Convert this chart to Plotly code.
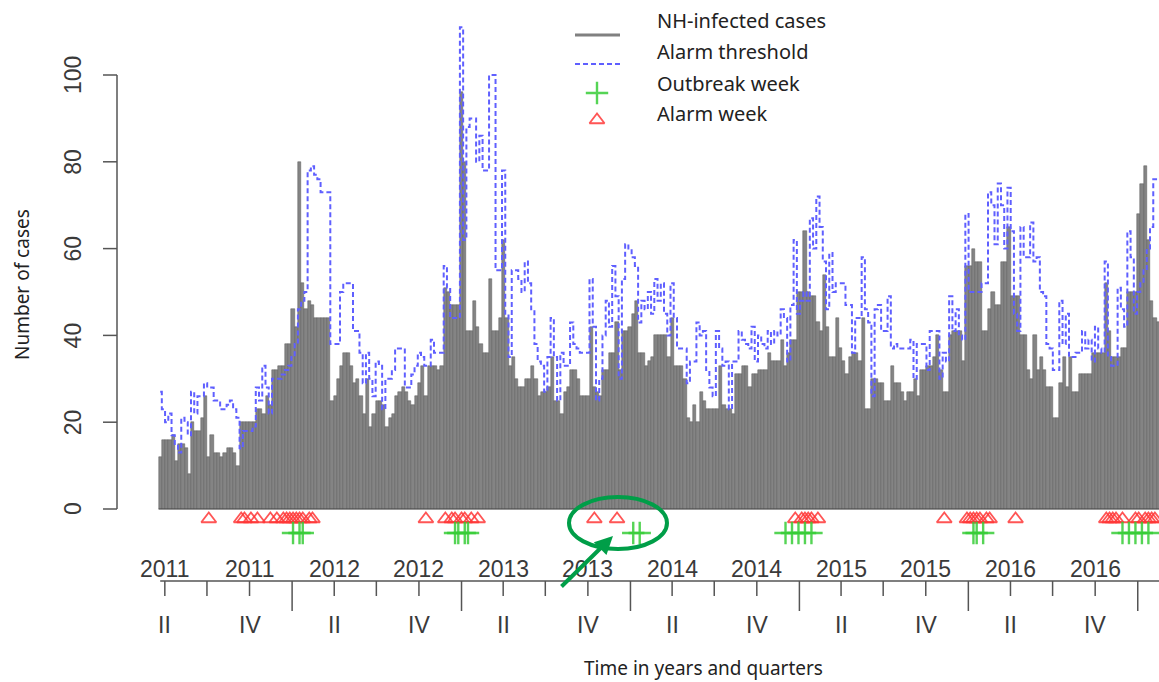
import pandas as pd
import plotly.graph_objects as go

# ---------------- data ----------------
start_week = "2011-03-22"
cases = [
    12, 16, 16, 16, 17, 11, 15, 15, 14, 8,
    20, 18, 18, 21, 26, 12, 17, 13, 13, 12,
    13, 14, 14, 13, 10, 20, 20, 20, 20, 20,
    23, 23, 22, 26, 24, 32, 32, 33, 33, 38,
    38, 46, 42, 80, 52, 46, 48, 47, 44, 44,
    44, 44, 44, 25, 26, 30, 33, 36, 36, 33,
    29, 30, 26, 22, 30, 19, 22, 25, 25, 24,
    19, 21, 22, 26, 27, 28, 27, 25, 24, 26,
    29, 33, 26, 33, 33, 33, 32, 33, 51, 50,
    47, 47, 47, 96, 80, 41, 41, 48, 42, 38,
    36, 36, 53, 41, 41, 44, 62, 44, 33, 35,
    30, 28, 28, 30, 30, 33, 30, 26, 27, 27,
    28, 35, 25, 25, 22, 27, 28, 32, 32, 30,
    26, 26, 26, 42, 28, 27, 26, 32, 32, 36,
    36, 43, 32, 41, 41, 42, 45, 48, 36, 36,
    33, 34, 35, 40, 40, 40, 40, 35, 44, 33,
    33, 33, 30, 21, 20, 24, 20, 27, 25, 23,
    23, 23, 23, 33, 24, 23, 23, 22, 31, 31,
    33, 33, 28, 31, 31, 32, 32, 32, 36, 34,
    34, 34, 39, 33, 36, 39, 39, 50, 50, 64,
    50, 49, 49, 43, 41, 54, 42, 35, 35, 44,
    37, 34, 31, 35, 36, 36, 34, 44, 23, 23,
    30, 30, 29, 29, 25, 25, 33, 29, 29, 27,
    25, 27, 27, 30, 26, 32, 32, 33, 33, 35,
    40, 32, 27, 27, 40, 41, 41, 41, 34, 56,
    56, 60, 57, 57, 41, 41, 46, 50, 47, 47,
    57, 57, 65, 49, 49, 49, 40, 40, 32, 30,
    40, 32, 35, 32, 28, 28, 21, 21, 29, 35,
    28, 35, 27, 27, 31, 31, 31, 31, 36, 36,
    36, 36, 52, 41, 35, 35, 35, 37, 37, 50,
    50, 50, 68, 75, 79, 62, 48, 44, 43,
]
threshold = [
    27, 23, 20, 22, 17, 15, 13, 21, 20, 17,
    27, 22, 26, 26, 29, 28, 28, 25, 25, 23,
    23, 24, 25, 23, 21, 14, 18, 18, 18, 19,
    28, 25, 33, 28, 22, 30, 30, 30, 31, 32,
    33, 35, 38, 46, 48, 50, 78, 79, 77, 76,
    73, 73, 73, 38, 38, 38, 50, 52, 52, 52,
    41, 41, 36, 29, 36, 30, 26, 34, 33, 23,
    30, 30, 32, 37, 37, 37, 28, 28, 31, 33,
    36, 35, 33, 33, 39, 36, 36, 36, 56, 51,
    44, 44, 44, 111, 62, 88, 90, 90, 80, 86,
    78, 78, 100, 100, 55, 55, 78, 45, 35, 55,
    55, 53, 50, 57, 52, 46, 38, 34, 33, 27,
    35, 44, 35, 25, 36, 33, 33, 43, 38, 37,
    36, 36, 36, 53, 42, 25, 30, 40, 48, 42,
    56, 49, 30, 53, 61, 60, 58, 56, 43, 48,
    46, 50, 45, 53, 48, 52, 45, 40, 52, 44,
    37, 37, 37, 29, 34, 34, 43, 40, 41, 32,
    28, 26, 41, 37, 33, 34, 23, 34, 34, 41,
    39, 38, 37, 42, 34, 40, 38, 37, 41, 38,
    41, 40, 46, 44, 34, 47, 62, 45, 48, 50,
    48, 67, 60, 72, 65, 57, 46, 59, 50, 52,
    52, 52, 47, 47, 36, 44, 44, 58, 46, 43,
    26, 46, 47, 41, 41, 49, 37, 38, 37, 37,
    37, 37, 39, 30, 38, 38, 38, 32, 41, 41,
    41, 30, 36, 34, 49, 41, 46, 40, 39, 68,
    50, 50, 50, 50, 52, 52, 73, 70, 61, 75,
    70, 60, 74, 64, 45, 41, 65, 58, 58, 66,
    57, 58, 50, 49, 38, 37, 32, 32, 48, 38,
    45, 35, 35, 36, 36, 41, 37, 39, 34, 42,
    37, 36, 57, 35, 33, 33, 51, 46, 42, 64,
    58, 45, 50, 52, 55, 60, 65, 76, 76,
]
alarm_weeks = [15, 25, 26, 28, 30, 34, 36, 38, 39, 40, 41, 42, 43, 44, 46, 47,
               82, 88, 90, 91, 93, 94, 96, 98, 134, 141,
               196, 198, 199, 200, 201, 203, 242, 249, 250, 251, 252, 253, 255, 256,
               264, 292, 293, 294, 295, 297, 301, 302, 304, 305, 306, 307]
outbreak_weeks = [41, 43, 44, 91, 92, 94, 95, 146, 148,
                  193, 195, 197, 199, 201, 251, 252, 254, 297, 299, 301, 303, 305]
years = [2011, 2012, 2013, 2014, 2015, 2016]
y_ticks = [0, 20, 40, 60, 80, 100]
legend_labels = ["NH-infected cases", "Alarm threshold", "Outbreak week", "Alarm week"]

# ---------------- derived ----------------
W, H = 1159, 682
dates = pd.date_range(start_week, periods=len(cases), freq="7D")
thr_dates = dates[:len(threshold)]
px_per_day = 3.24 / 7.0
x_start = dates[0] - pd.Timedelta(days=160.2 / px_per_day)
x_end = dates[0] + pd.Timedelta(days=(W - 160.2) / px_per_day)
y_top = (509 - 0) / 4.34
y_bot = (509 - H) / 4.34

def ypix(p):
    return (509 - p) / 4.34

thr_col = "rgb(95,95,255)"
thr_dash = "5px,3px"
red = "rgba(255,55,55,0.85)"
lime = "rgba(55,205,55,0.85)"

fig = go.Figure()
fig.add_trace(go.Bar(
    x=dates, y=cases, width=7 * 86400000,
    marker=dict(color="#848484", line=dict(color="#5a5a5a", width=0.5)),
    showlegend=False, hoverinfo="x+y",
))
fig.add_trace(go.Scatter(
    x=thr_dates, y=threshold, mode="lines",
    line=dict(color=thr_col, width=2, dash=thr_dash, shape="hvh"),
    showlegend=False,
))
fig.add_trace(go.Scatter(
    x=[dates[i] for i in alarm_weeks], y=[ypix(519)] * len(alarm_weeks),
    mode="markers",
    marker=dict(symbol="triangle-up-open", size=13, color=red, line=dict(width=1.8, color=red)),
    showlegend=False,
))
fig.add_trace(go.Scatter(
    x=[dates[i] for i in outbreak_weeks], y=[ypix(533)] * len(outbreak_weeks),
    mode="markers",
    marker=dict(symbol="cross-thin-open", size=16, color=lime, line=dict(width=2.4, color=lime)),
    showlegend=False,
))

# legend symbols (pixel overlay axes)
fig.add_trace(go.Scatter(x=[575, 620], y=[35, 35], mode="lines", xaxis="x2", yaxis="y2",
                         line=dict(color="#808080", width=3), showlegend=False, hoverinfo="skip"))
fig.add_trace(go.Scatter(x=[575, 620], y=[64, 64], mode="lines", xaxis="x2", yaxis="y2",
                         line=dict(color=thr_col, width=2, dash=thr_dash),
                         showlegend=False, hoverinfo="skip"))
fig.add_trace(go.Scatter(x=[597], y=[93], mode="markers", xaxis="x2", yaxis="y2",
                         marker=dict(symbol="cross-thin-open", size=16, color=lime,
                                     line=dict(width=2.4, color=lime)),
                         showlegend=False, hoverinfo="skip"))
fig.add_trace(go.Scatter(x=[597], y=[120], mode="markers", xaxis="x2", yaxis="y2",
                         marker=dict(symbol="triangle-up-open", size=13, color=red,
                                     line=dict(width=1.8, color=red)),
                         showlegend=False, hoverinfo="skip"))

shapes = []
annotations = []
axis_col = "#555555"
txt_col = "#3a3a3a"
tick_font = dict(family="Liberation Sans, Arial", size=23, color=txt_col)
title_font = "Noto Sans"

shapes.append(dict(type="line", xref="x", yref="y",
                   x0=dates[0] - pd.Timedelta(days=3.5), x1=x_end, y0=0, y1=0,
                   line=dict(color="#404040", width=1.2)))

# y axis
yax_x = 117 / W
shapes.append(dict(type="line", xref="paper", yref="y", x0=yax_x, x1=yax_x,
                   y0=y_ticks[0], y1=y_ticks[-1], line=dict(color=axis_col, width=1.5)))
for t in y_ticks:
    shapes.append(dict(type="line", xref="paper", yref="y", x0=103 / W, x1=yax_x,
                       y0=t, y1=t, line=dict(color=axis_col, width=1.5)))
    annotations.append(dict(xref="paper", yref="y", x=73 / W, y=t, text=str(t),
                            showarrow=False, textangle=-90, font=tick_font,
                            xanchor="center", yanchor="middle"))
annotations.append(dict(xref="paper", yref="paper", x=22 / W, y=1 - 285 / H,
                        text="Number of cases", showarrow=False, textangle=-90,
                        font=dict(family=title_font, size=19, color="#222"),
                        xanchor="center", yanchor="middle"))

# x axis (custom year / quarter axis)
yl = ypix(581)
shapes.append(dict(type="line", xref="x", yref="y", x0=dates[0], x1=x_end,
                   y0=yl, y1=yl, line=dict(color=axis_col, width=1.5)))
for yr in years:
    for q, m in ((2, 4), (3, 7), (4, 10)):
        d = pd.Timestamp(year=yr, month=m, day=1)
        shapes.append(dict(type="line", xref="x", yref="y", x0=d, x1=d,
                           y0=yl, y1=ypix(596), line=dict(color=axis_col, width=1.5)))
        if q in (2, 4):
            annotations.append(dict(xref="x", yref="y", x=d, y=ypix(569), text=str(yr),
                                    showarrow=False, font=tick_font,
                                    xanchor="center", yanchor="middle"))
            annotations.append(dict(xref="x", yref="y", x=d, y=ypix(625),
                                    text="II" if q == 2 else "IV",
                                    showarrow=False, font=tick_font,
                                    xanchor="center", yanchor="middle"))
    d = pd.Timestamp(year=yr + 1, month=1, day=1)
    shapes.append(dict(type="line", xref="x", yref="y", x0=d, x1=d,
                       y0=yl, y1=ypix(611), line=dict(color=axis_col, width=1.5)))
annotations.append(dict(xref="paper", yref="paper", x=703 / W, y=1 - 668 / H,
                        text="Time in years and quarters", showarrow=False,
                        font=dict(family=title_font, size=19, color="#222"),
                        xanchor="center", yanchor="middle"))

# legend texts
for lab, py in zip(legend_labels, [20, 51, 83, 113]):
    annotations.append(dict(xref="x2", yref="y2", x=655, y=py, text=lab, showarrow=False,
                            font=dict(family=title_font, size=20, color="#222"),
                            xanchor="left", yanchor="middle"))

# green highlight ellipse and arrow
green = "rgb(0,158,72)"
shapes.append(dict(type="circle", xref="x2", yref="y2", x0=569, x1=667, y0=497, y1=549,
                   line=dict(color=green, width=4)))
annotations.append(dict(xref="x2", yref="y2", x=613, y=536, ax=560, ay=588,
                        axref="x2", ayref="y2", text="", showarrow=True,
                        arrowhead=2, arrowsize=0.9, arrowwidth=4, arrowcolor=green))

fig.update_layout(
    width=W, height=H, margin=dict(l=0, r=0, t=0, b=0),
    paper_bgcolor="white", plot_bgcolor="white",
    bargap=0, showlegend=False,
    xaxis=dict(type="date", range=[x_start, x_end], visible=False, fixedrange=True),
    yaxis=dict(range=[y_bot, y_top], visible=False, fixedrange=True),
    xaxis2=dict(range=[0, W], overlaying="x", visible=False, anchor="y2"),
    yaxis2=dict(range=[H, 0], overlaying="y", visible=False, anchor="x2"),
    shapes=shapes, annotations=annotations,
)

fig.write_html("out.html", config={"displayModeBar": False},
               post_script="document.body.style.margin='0px';document.body.style.overflow='hidden';")
